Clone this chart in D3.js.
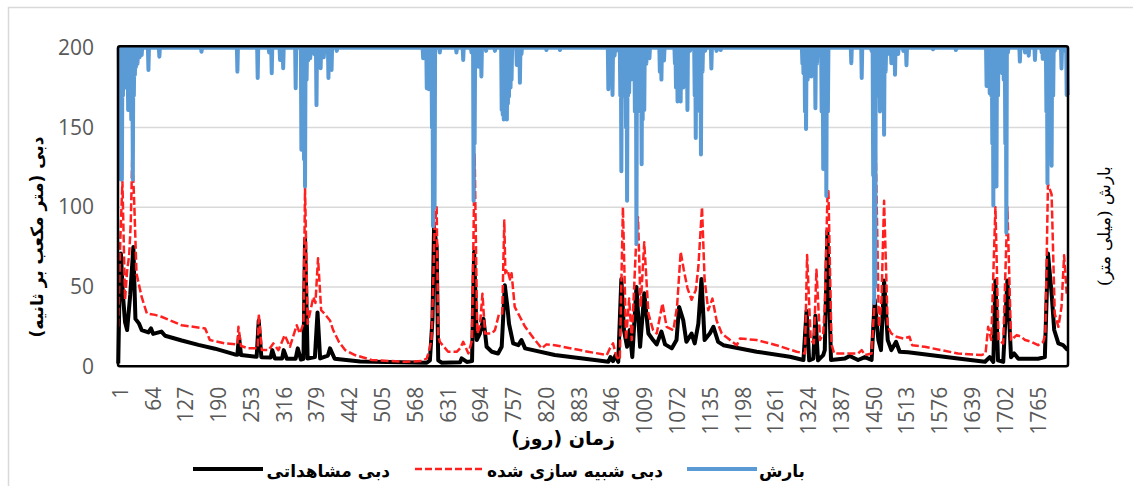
<!DOCTYPE html>
<html>
<head>
<meta charset="utf-8">
<script src="https://cdn.jsdelivr.net/npm/d3@7"></script>
<style>
  body { margin: 0; background: #fff; }
  svg { display: block; }
</style>
</head>
<body>
<div id="chart"></div>
<script>
// x axis: one category per day
const dayCount = 1826;
const tickLabels = [1, 64, 127, 190, 253, 316, 379, 442, 505, 568, 631, 694, 757, 820, 883, 946,
  1009, 1072, 1135, 1198, 1261, 1324, 1387, 1450, 1513, 1576, 1639, 1702, 1765];
const yTicks = [0, 50, 100, 150, 200];

// observed discharge [day, m3/s]
const observed = [[1,2],[3,40],[6,71],[10,45],[14,28],[18,23],[24,45],[30,75],[34,30],[41,27],[46,23],[59,21.5],[64,24],[68,20.6],[84,22],[91,19.4],[123,16.4],[155,13.7],[187,11.3],[225,7.7],[230,7.5],[233,19],[237,7.3],[267,6.2],[271,29],[276,6],[294,5.8],[297,10.4],[302,5.2],[316,5.2],[319,10.4],[325,5],[342,5],[346,11.5],[352,4.5],[357,5],[360,80],[365,5.2],[379,6],[384,34],[389,5.2],[404,7],[408,11.5],[417,5],[466,3.3],[594,2.5],[600,4],[605,30],[608,87.5],[613,75],[616,4],[623,2.5],[658,2.8],[661,5.2],[671,3],[681,3.5],[685,72],[690,16.7],[696,20.8],[703,30],[709,12.5],[719,9.4],[731,8.3],[738,12.5],[744,51],[749,37.5],[752,27],[756,20.8],[760,14.6],[770,13.5],[776,16.7],[783,11.5],[840,7.3],[917,4.2],[943,3.1],[947,6],[952,3.5],[957,7.3],[962,3],[968,55],[973,23],[979,12.5],[984,23],[989,6],[997,50],[1004,12.5],[1012,46],[1020,20.8],[1029,16.7],[1036,14],[1045,22],[1052,14],[1065,11.5],[1074,16.7],[1079,37.5],[1087,29],[1093,15.6],[1103,20.8],[1109,14.6],[1116,27],[1122,55],[1128,16.7],[1138,20.8],[1145,25],[1154,15.6],[1164,13.5],[1228,9.4],[1292,6.25],[1318,4.2],[1324,35],[1329,4],[1337,5],[1341,32],[1346,4],[1356,7.3],[1359,10.4],[1364,85],[1371,4.2],[1398,5.2],[1407,6.7],[1423,4.2],[1436,6],[1449,4.2],[1455,42],[1462,16.7],[1467,10.4],[1473,54],[1480,16.7],[1487,10.4],[1496,15.6],[1503,9.4],[1519,9],[1615,5.2],[1667,3.1],[1676,6],[1683,3],[1687,54],[1692,4],[1702,3],[1710,54],[1717,6],[1723,8.3],[1731,5],[1769,5],[1782,6],[1788,71],[1795,46],[1800,23],[1808,14.6],[1817,13.5],[1826,10.4]];

// simulated discharge [day, m3/s]
const simulated = [[1,25],[5,80],[9,116],[14,42],[18,60],[22,70],[25,90],[28,133],[32,100],[36,58.5],[46,43.7],[56,33.3],[72,32.5],[84,31.3],[123,26],[168,24],[177,16.7],[206,14.6],[227,14],[230,14],[232,25],[237,13],[251,11.5],[269,11.5],[271,33],[277,10.4],[290,10.4],[299,14.6],[309,10.4],[321,19.8],[331,12.5],[344,26],[350,20.8],[357,27],[360,112],[365,27],[376,43.7],[380,40],[385,68],[391,35.4],[398,33],[408,29],[414,23],[425,15.6],[437,10.4],[456,7.3],[488,4.2],[552,3.1],[584,3.5],[594,5.2],[598,9.4],[603,16.7],[607,60],[609,88],[613,100],[616,20],[619,15.6],[635,9.4],[652,9.4],[658,11.5],[664,15.6],[674,8.3],[681,16.7],[686,133],[691,20.8],[696,25],[701,45.8],[706,20.8],[719,20.8],[725,22.9],[733,33.3],[739,33.3],[743,91.7],[745,58.6],[749,60.8],[754,54.7],[757,58.6],[763,37.5],[773,31.3],[783,25],[802,16.7],[815,11.5],[824,14],[840,13.5],[904,9.4],[940,7.3],[946,11.5],[952,14.6],[959,6],[965,4.2],[971,100],[977,16.7],[983,42.7],[988,16.7],[996,75],[1000,93.75],[1005,37.5],[1012,78],[1020,33.3],[1029,22.9],[1036,20.8],[1047,39.6],[1055,25],[1068,22.9],[1075,37.5],[1082,72],[1088,60.8],[1095,49.3],[1103,42],[1111,48],[1116,62.5],[1123,100],[1128,54.7],[1135,35.4],[1143,42.7],[1151,29],[1161,20.8],[1177,16.7],[1190,13.5],[1196,17.7],[1228,16.7],[1266,13.5],[1305,9.4],[1321,8.3],[1325,70],[1332,16.7],[1338,14.6],[1343,60.8],[1350,16.7],[1356,20.8],[1359,37.5],[1364,105],[1366,110],[1372,14],[1377,8.3],[1423,8.3],[1430,10.4],[1436,7.3],[1449,8.3],[1454,37.5],[1457,135],[1463,25],[1468,41.7],[1473,104],[1480,25],[1487,20.8],[1497,18.75],[1510,17.7],[1522,18.75],[1527,13.5],[1551,12.5],[1615,8.3],[1660,7.3],[1668,8.3],[1673,25],[1679,16.7],[1687,100],[1693,16.7],[1702,14.6],[1710,100],[1717,16.7],[1728,19.8],[1737,18.75],[1744,16.7],[1756,15.6],[1769,13.5],[1779,15.6],[1783,20.8],[1788,114.6],[1795,108],[1801,33.3],[1808,25],[1814,37.5],[1819,69.8],[1824,45.8]];

// rainy days [day, mm]; every other day is 0
const rainDays = [[3,40],[6,82.7],[8,82.7],[10,30],[13,20],[16,25],[20,39],[22,35],[24,32.7],[26,45],[29,82.7],[31,30],[33,17],[35,12],[38,10],[42,6],[46,4.6],[59,14],[80,5.6],[161,2.5],[230,15],[269,19],[291,3],[296,16],[312,7.7],[318,12.9],[342,25.4],[353,64],[356,40],[358,70],[360,87],[363,20],[366,8],[370,6.6],[378,4],[382,36],[390,12.9],[396,6],[405,19],[411,14],[421,2],[587,6.6],[594,25.4],[596,20],[598,26],[601,15],[604,50],[606,112],[609,100],[619,3],[651,3],[664,7.7],[680,3],[684,96],[686,60],[690,7.7],[694,12],[699,18],[708,2],[725,2],[738,39],[740,42],[742,45],[745,40],[748,45],[750,35],[752,30.6],[755,25],[757,20],[767,10.8],[773,22],[776,4],[824,1.5],[850,1.5],[943,26],[946,20],[951,29.6],[955,5],[958,2],[966,30],[968,77.5],[971,30],[974,24],[977,50],[979,96],[981,30],[983,28],[986,20],[988,16],[991,16],[994,40],[997,123],[1000,30],[1002,18],[1005,40],[1007,73],[1009,45],[1012,39],[1016,10],[1022,6.6],[1042,15],[1045,20],[1050,8],[1071,9.8],[1073,25],[1076,33.7],[1079,30],[1082,33.7],[1087,25],[1091,20],[1095,39],[1100,2],[1109,30],[1111,56.6],[1114,20],[1119,40],[1121,67],[1124,15],[1129,2],[1141,13],[1151,2],[1159,1.5],[1316,10],[1318,16],[1321,40],[1323,51],[1326,20],[1330,7.7],[1333,18],[1338,10],[1341,38],[1344,10],[1350,2],[1353,40],[1356,76],[1359,50],[1362,93],[1365,40],[1410,9.7],[1430,19],[1449,2],[1452,80],[1454,160],[1456,150],[1459,30],[1463,20],[1465,40],[1468,20],[1471,35],[1473,54.6],[1476,15],[1480,4],[1487,9.7],[1494,17],[1500,4],[1510,2],[1516,11],[1567,1],[1611,1.5],[1670,24],[1673,20],[1676,28.5],[1679,30],[1681,60],[1683,99],[1686,40],[1689,87],[1692,30],[1700,16],[1703,20],[1706,60],[1708,116],[1711,3],[1734,8.7],[1744,3],[1751,5],[1763,7.7],[1776,3],[1778,7],[1785,40],[1787,85],[1790,30],[1792,60],[1795,74],[1798,30],[1801,2],[1814,13],[1818,2],[1824,29.6],[1826,29.6]];

const legendItems = [
  { name: 'دبی مشاهداتی', color: '#000000', dash: null, width: 4 },
  { name: 'دبی شبیه سازی شده', color: '#ff2020', dash: '7,3', width: 2.5 },
  { name: 'بارش', color: '#5b9bd5', dash: null, width: 4 }
];

const RLM = '\u200F';
const PERSIAN_FONT = '"DejaVu Sans", sans-serif';
const NUM_FONT = '"Open Sans", "Noto Sans", sans-serif';
const TEXT_COLOR = '#595959';

const width = 1133, height = 486;
const margin = { left: 118, right: 1068, top: 47.7, bottom: 366.7 };

const svg = d3.select('#chart').append('svg')
  .attr('width', width)
  .attr('height', height);

// chart area outline
svg.append('rect')
  .attr('x', 8.5).attr('y', 7.5)
  .attr('width', 1140).attr('height', 500)
  .attr('fill', '#fff')
  .attr('stroke', '#d9d9d9')
  .attr('stroke-width', 1.5);

const x = d3.scaleLinear()
  .domain([0.5, dayCount + 0.5])
  .range([margin.left, margin.right]);

const y = d3.scaleLinear()
  .domain([0, 200])
  .range([margin.bottom, margin.top]);

// secondary axis, reversed (rain hangs from the top)
const yRain = d3.scaleLinear()
  .domain([0, 200])
  .range([margin.top, margin.bottom]);

// gridlines
svg.append('g')
  .selectAll('line')
  .data(yTicks.filter(d => d > 0 && d < 200))
  .join('line')
  .attr('x1', margin.left).attr('x2', margin.right)
  .attr('y1', d => y(d)).attr('y2', d => y(d))
  .attr('stroke', '#d9d9d9')
  .attr('stroke-width', 1.5);

// y axis labels
const yAxis = svg.append('g')
  .attr('transform', `translate(${margin.left - 24},0)`)
  .call(d3.axisLeft(y).tickValues(yTicks).tickSize(0).tickPadding(0));
yAxis.select('.domain').remove();
yAxis.selectAll('text')
  .attr('fill', TEXT_COLOR)
  .style('font-family', NUM_FONT)
  .style('font-size', '21px');

// x axis labels, rotated
const xAxis = svg.append('g')
  .attr('transform', `translate(0,${margin.bottom})`)
  .call(d3.axisBottom(x).tickValues(tickLabels).tickSize(0).tickFormat(d3.format('d')));
xAxis.select('.domain').remove();
xAxis.selectAll('text')
  .attr('fill', TEXT_COLOR)
  .style('font-family', NUM_FONT)
  .style('font-size', '21px')
  .attr('text-anchor', 'end')
  .attr('dy', '0.36em')
  .attr('transform', d => `translate(${1.5},${20}) rotate(-90)`)
  .attr('x', 0).attr('y', 0);

// series
const line = d3.line()
  .x(d => x(d[0]))
  .y(d => y(d[1]));

svg.append('path')
  .datum(observed)
  .attr('d', line)
  .attr('fill', 'none')
  .attr('stroke', '#000')
  .attr('stroke-width', 4)
  .attr('stroke-linejoin', 'round');

svg.append('path')
  .datum(simulated)
  .attr('d', line)
  .attr('fill', 'none')
  .attr('stroke', '#ff2020')
  .attr('stroke-width', 2.5)
  .attr('stroke-dasharray', '8,3')
  .attr('stroke-linejoin', 'round');

// daily rain table built from the rainy days
const rainMap = new Map(rainDays);
const rainDaily = d3.range(1, dayCount + 1).map(d => [d, rainMap.get(d) || 0]);

svg.append('path')
  .datum(rainDaily)
  .attr('d', d3.line().x(d => x(d[0])).y(d => yRain(d[1])))
  .attr('fill', 'none')
  .attr('stroke', '#5b9bd5')
  .attr('stroke-width', 4)
  .attr('stroke-linejoin', 'round');

// plot frame
svg.append('rect')
  .attr('x', margin.left).attr('y', margin.top - 1.5)
  .attr('width', margin.right - margin.left)
  .attr('height', margin.bottom - margin.top + 1)
  .attr('fill', 'none')
  .attr('stroke', '#000')
  .attr('stroke-width', 2.5)
  .attr('rx', 2);

// axis titles
svg.append('text')
  .attr('transform', 'translate(37,237) rotate(-90)')
  .attr('text-anchor', 'middle')
  .attr('dominant-baseline', 'central')
  .style('font-family', PERSIAN_FONT)
  .style('font-weight', 'bold')
  .style('font-size', '17px')
  .text(RLM + 'دبی (متر مکعب بر ثانیه)' + RLM);

svg.append('text')
  .attr('transform', 'translate(1104,226) rotate(-90)')
  .attr('text-anchor', 'middle')
  .attr('dominant-baseline', 'central')
  .style('font-family', '"DejaVu Serif", serif')
  .style('font-size', '17px')
  .text(RLM + 'بارش (میلی متر)' + RLM);

svg.append('text')
  .attr('x', 563).attr('y', 438)
  .attr('text-anchor', 'middle')
  .attr('dominant-baseline', 'central')
  .style('font-family', PERSIAN_FONT)
  .style('font-weight', 'bold')
  .style('font-size', '19px')
  .text(RLM + 'زمان (روز)' + RLM);

// legend
const legendPos = [
  { x1: 193, x2: 263, textRight: 390 },
  { x1: 415, x2: 485, textRight: 663 },
  { x1: 687, x2: 757, textRight: 805 }
];
const legendY = 469;
const legend = svg.append('g')
  .selectAll('g')
  .data(legendItems)
  .join('g');

legend.append('line')
  .attr('x1', (d, i) => legendPos[i].x1)
  .attr('x2', (d, i) => legendPos[i].x2)
  .attr('y1', legendY).attr('y2', legendY)
  .attr('stroke', d => d.color)
  .attr('stroke-width', d => d.width)
  .attr('stroke-dasharray', d => d.dash);

legend.append('text')
  .attr('x', (d, i) => legendPos[i].textRight)
  .attr('y', legendY + 2)
  .attr('text-anchor', 'end')
  .attr('dominant-baseline', 'central')
  .style('font-family', PERSIAN_FONT)
  .style('font-weight', 'bold')
  .style('font-size', '17px')
  .text(d => RLM + d.name + RLM);
</script>
</body>
</html>
